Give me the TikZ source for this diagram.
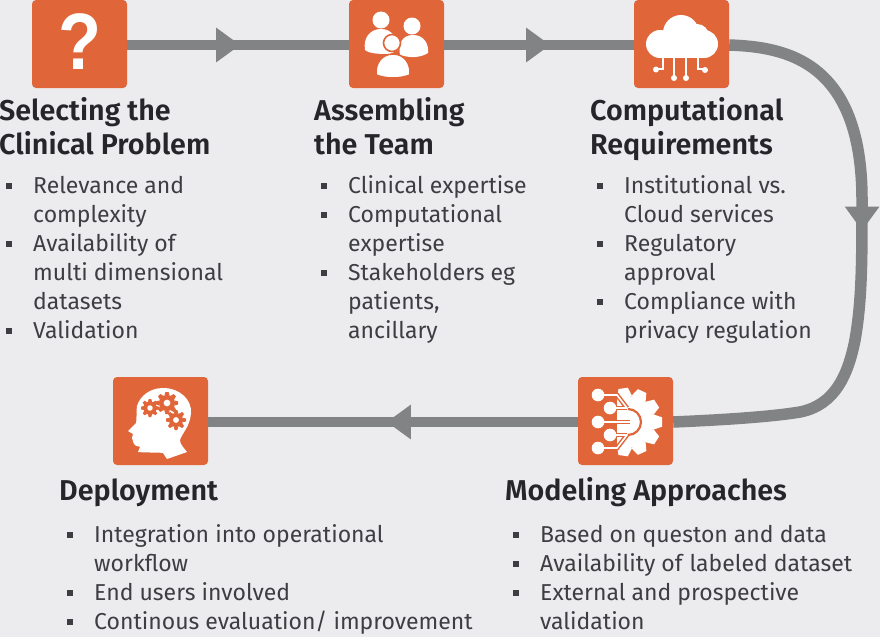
\documentclass[tikz,border=0pt]{standalone}
\usepackage{fontspec}
\setmainfont{Fira Sans}
\usetikzlibrary{arrows.meta,decorations.markings}
\definecolor{bgc}{HTML}{ECECEF}
\definecolor{boxc}{HTML}{E0663A}
\definecolor{linec}{HTML}{818385}
\definecolor{headc}{HTML}{26262A}
\definecolor{bodyc}{HTML}{3E3E42}
\newcommand{\bulli}{\strut\makebox[27pt][l]{\raisebox{4.5pt}{\rule{6pt}{6pt}}}}
\newcommand{\contl}{\strut\hspace*{27pt}}
\newcommand{\mygear}[5]{% cx cy r toothr n
  \fill[white] (#1,#2) circle (#3);
  \pgfmathsetmacro{\gstep}{360/#5}
  \foreach \i in {1,...,#5}{
    \fill[white,shift={(#1,#2)},rotate=\i*\gstep] (#3-1,-#3*0.30) -- (#4,-#3*0.18) -- (#4,#3*0.18) -- (#3-1,#3*0.30) -- cycle;
  }
}
\newcommand{\orgear}[5]{%
  \fill[boxc] (#1,#2) circle (#3);
  \pgfmathsetmacro{\gstep}{360/#5}
  \foreach \i in {1,...,#5}{
    \fill[boxc,shift={(#1,#2)},rotate=\i*\gstep] (#3-.5,-#3*0.32) -- (#4,-#3*0.2) -- (#4,#3*0.2) -- (#3-.5,#3*0.32) -- cycle;
  }
  \fill[white] (#1,#2) circle (#3*0.42);
}
\newcommand{\medseries}{\fontspec{Fira Sans SemiBold}}
\tikzset{
  iconbox/.style={fill=boxc,rounded corners=4pt,minimum width=95pt,minimum height=88pt,inner sep=0pt,text=white},
  flow/.style={draw=linec,line width=10.5pt},
  headtext/.style={font=\fontsize{28.7}{34}\selectfont\medseries,text=headc,anchor=north west,align=left,inner sep=0pt},
  bodytext/.style={font=\fontsize{23}{29}\selectfont,text=bodyc,anchor=north west,align=left,inner sep=0pt},
  midtip/.style={postaction={decorate},decoration={markings,mark=at position #1 with {\arrow[linec]{Triangle[length=24pt,width=33pt]}}}},
}
\begin{document}
\begin{tikzpicture}[x=1pt,y=-1pt]
\useasboundingbox (0,0) rectangle (880,637);
\fill[bgc] (0,0) rectangle (880,637);
% boxes
\node[iconbox] (q) at (79.5,44) {};
\node[iconbox] (p) at (396.5,44) {};
\node[iconbox] (c) at (681.5,44) {};
\node[iconbox] (d) at (160.5,421) {};
\node[iconbox] (m) at (625.5,421) {};
% connectors
\path[flow,midtip=113pt] ([yshift=-1pt]q.east) -- ([yshift=-1pt]p.west);
\path[flow,midtip=106pt] ([yshift=-1pt]p.east) -- ([yshift=-1pt]c.west);
\coordinate (r1) at (862,200);
\coordinate (r2) at (855,340);
\coordinate (r3) at (800,412);
\path[flow,line width=11.5pt,midtip=265pt] ([yshift=-1pt]c.east) .. controls (785,47) and (862,60) .. (r1)
   .. controls (862,260) and (862,300) .. (r2)
   .. controls (848,375) and (835,405) .. (r3)
   .. controls (770,417) and (720,420) .. ([yshift=-1pt]m.east);
\path[flow,midtip=191pt] ([yshift=-1pt]m.west) -- ([yshift=-1pt]d.east);
% question
\node[font=\fontsize{80}{80}\fontspec{Liberation Sans Bold},text=white,xscale=.88] (qm) at (80,42) {?};
% people
\begin{scope}
\fill[white] (381,20) circle (8.5);
\fill[white] (365,50) .. controls (363,38) and (370,29) .. (381,29) .. controls (392,29) and (398,38) .. (398,50) -- (390,54) .. controls (380,54) and (370,54) .. (365,50) -- cycle;
\fill[white] (412,26) circle (8.5);
\fill[white] (400,55) .. controls (398,44) and (402,35) .. (413,35) .. controls (424,35) and (429,44) .. (428,53) .. controls (420,58) and (410,58) .. (400,55) -- cycle;
\fill[white,draw=boxc,line width=1.6pt] (392,43) circle (8.5);
\fill[white,draw=boxc,line width=1.6pt] (376,75) .. controls (375,63) and (382,54) .. (393,54) .. controls (404,54) and (411,63) .. (410,75) .. controls (400,79) and (386,79) .. (376,75) -- cycle;
\end{scope}
% cloud
\begin{scope}
\fill[white] (681,33) circle (18);
\fill[white] (660,44) circle (14);
\fill[white] (704,44) circle (14);
\fill[white] (697,36) circle (12);
\fill[white] (660,40) rectangle (704,58);
\draw[white,line width=1.5pt] (663,56) -- (663,69) -- (656,69);
\draw[white,line width=1.5pt] (674,56) -- (674,78);
\draw[white,line width=1.5pt] (686,56) -- (686,78);
\draw[white,line width=1.5pt] (698,56) -- (698,69) -- (705,69);
\foreach \a/\b in {656/69.5,674/78,686/78,705/70}{\fill[white] (\a,\b) circle (3);}
\end{scope}
% head
\fill[white] (138,452) .. controls (150,453) and (158,452) .. (163,453) -- (167,459) -- (187,452)
  .. controls (183,447) and (180,444) .. (180,440) .. controls (182,433) and (190,427) .. (191,413)
  .. controls (192,400) and (180,388) .. (163,388) .. controls (150,388) and (140,396) .. (137,406)
  .. controls (136,414) and (137,420) .. (136,423) -- (128,431) -- (133,434) -- (132,438) -- (134,444)
  .. controls (136,447) and (140,446) .. (140,447) -- cycle;
\orgear{150}{408}{6.5}{9}{8}
\orgear{167}{403}{8}{11}{8}
\orgear{176}{420}{7}{10}{8}
% model gear
\begin{scope}
\mygear{628}{422}{26}{34}{11}
\fill[boxc] (590,382) rectangle (617,462);
\foreach \w/\cl in {4.6/boxc,1.6/white}{
\draw[\cl,line width=\w pt] (598,395) -- (617,395) -- (627,408);
\draw[\cl,line width=\w pt] (610,408) -- (627,408);
\draw[\cl,line width=\w pt] (598,422) -- (630,422);
\draw[\cl,line width=\w pt] (610,435) -- (627,435);
\draw[\cl,line width=\w pt] (598,448) -- (617,448) -- (627,435);
}
\draw[boxc,line width=2.2pt] (628,409) arc (-90:90:13);
\foreach \a/\b in {598/395,610/408,598/422,610/435,598/448}{\fill[white] (\a,\b) circle (6.3);}
\end{scope}
% texts
\node[headtext] (h1) at (-1,96) {\strut Selecting the\\\strut Clinical Problem};
\node[bodytext] (b1) at (6,172.7) {\bulli Relevance and\\\contl complexity\\\bulli Availability of\\\contl multi dimensional\\\contl datasets\\\bulli Validation};
\node[headtext] (h2) at (314,96) {\strut Assembling\\\strut the Team};
\node[bodytext] (b2) at (321,172.7) {\bulli Clinical expertise\\\bulli Computational\\\contl expertise\\\bulli Stakeholders eg\\\contl patients,\\\contl ancillary};
\node[headtext] (h3) at (590,96) {\strut Computational\\\strut Requirements};
\node[bodytext] (b3) at (597,172.7) {\bulli Institutional vs.\\\contl Cloud services\\\bulli Regulatory\\\contl approval\\\bulli Compliance with\\\contl privacy regulation};
\node[headtext] (h4) at (59,476) {\strut Deployment};
\node[bodytext] (b4) at (67,521.7) {\bulli Integration into operational\\\contl workflow\\\bulli End users involved\\\bulli Continous evaluation/ improvement};
\node[headtext] (h5) at (505,476) {\strut Modeling Approaches};
\node[bodytext] (b5) at (513,521.7) {\bulli Based on queston and data\\\bulli Availability of\hspace{7pt}labeled dataset\\\bulli External and prospective\\\contl validation};
\end{tikzpicture}
\end{document}
